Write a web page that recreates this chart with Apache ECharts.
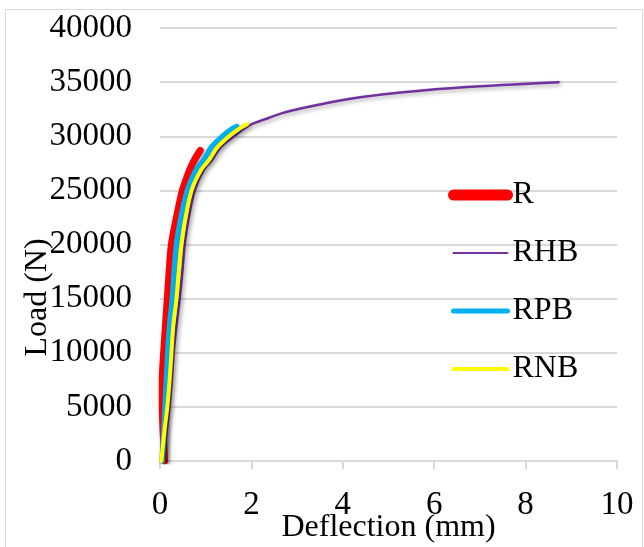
<!DOCTYPE html>
<html>
<head>
<meta charset="utf-8">
<script src="https://cdn.jsdelivr.net/npm/echarts@6/dist/echarts.min.js"></script>
<style>
html,body{margin:0;padding:0;background:#fff;}
#c{width:644px;height:547px;}
</style>
</head>
<body>
<div id="c"></div>
<script>
// ---- data ----
const seriesNames = ['R', 'RHB', 'RPB', 'RNB'];
const xTicks = [0, 2, 4, 6, 8, 10];
const yTicks = [0, 5000, 10000, 15000, 20000, 25000, 30000, 35000, 40000];

const rDefl = [0.10, 0.07, 0.05, 0.05, 0.08, 0.12, 0.16, 0.20, 0.25, 0.36, 0.49, 0.57, 0.65, 0.75, 0.88];
const rLoad = [0, 2500, 5000, 7500, 10000, 12500, 15000, 17500, 20000, 22500, 25000, 26000, 26900, 27800, 28700];

const rhbDefl = [0.08, 0.14, 0.21, 0.26, 0.30, 0.36, 0.43, 0.49, 0.54, 0.63, 0.76, 0.96, 1.14, 1.33, 1.62, 1.97, 2.30, 2.66, 3.10, 3.68, 4.38, 5.32, 6.64, 8.72];
const rhbLoad = [0, 2500, 5000, 7500, 10000, 12500, 15000, 17500, 20000, 22500, 25000, 26900, 27800, 29000, 30000, 31040, 31570, 32110, 32580, 33100, 33600, 34060, 34520, 34980];

const rpbDefl = [0.05, 0.08, 0.11, 0.14, 0.17, 0.21, 0.27, 0.31, 0.36, 0.46, 0.60, 0.79, 0.96, 1.13, 1.37, 1.52, 1.68];
const rpbLoad = [0, 2500, 5000, 7500, 10000, 12500, 15000, 17500, 20000, 22500, 25000, 26900, 27800, 29000, 30000, 30500, 30900];

const rnbDefl = [0.03, 0.09, 0.16, 0.21, 0.25, 0.29, 0.36, 0.41, 0.47, 0.56, 0.69, 0.90, 1.07, 1.26, 1.51, 1.70, 1.91];
const rnbLoad = [0, 2500, 5000, 7500, 10000, 12500, 15000, 17500, 20000, 22500, 25000, 26900, 27800, 29000, 30000, 30600, 31130];

// ---- chart ----
const pairs = (xs, ys) => xs.map((x, i) => [x, ys[i]]);
const FONT = '"Liberation Serif", "Times New Roman", serif';
const colors = ['#FF0000', '#7030A0', '#00B0F0', '#FFFF00'];
const widths = [7, 2.5, 5.5, 4];
const legendWidths = [11, 2, 5, 4];
const dataSets = [pairs(rDefl, rLoad), pairs(rhbDefl, rhbLoad), pairs(rpbDefl, rpbLoad), pairs(rnbDefl, rnbLoad)];

const chart = echarts.init(document.getElementById('c'), null, {renderer: 'canvas'});
chart.setOption({
  animation: false,
  backgroundColor: '#ffffff',
  textStyle: {fontFamily: FONT, color: '#000'},
  grid: {left: 160, right: 27, top: 28, bottom: 86, containLabel: false, outerBoundsMode: 'none'},
  graphic: [{
    type: 'rect', left: 3, top: 7, silent: true,
    shape: {width: 637, height: 538},
    style: {fill: 'none', stroke: '#d9d9d9', lineWidth: 1}
  }],
  legend: {
    orient: 'vertical',
    left: 443, top: 174,
    itemWidth: 54, itemHeight: 14, itemGap: 26,
    textStyle: {fontFamily: FONT, fontSize: 32, color: '#000', lineHeight: 31},
    data: seriesNames.map((n, i) => ({
      name: n,
      itemStyle: {opacity: 0},
      lineStyle: {width: legendWidths[i], cap: 'round', shadowBlur: 0, shadowOffsetX: 0, shadowOffsetY: 0}
    }))
  },
  xAxis: {
    type: 'value', min: 0, max: 10, interval: 2,
    name: 'Deflection (mm)', nameLocation: 'middle', nameGap: 51, nameMoveOverlap: false,
    nameTextStyle: {fontFamily: FONT, fontSize: 32, color: '#000', lineHeight: 31},
    axisLine: {show: true, lineStyle: {color: '#d9d9d9', width: 2}},
    axisTick: {show: true, length: 8, lineStyle: {color: '#d9d9d9', width: 2}},
    axisLabel: {fontFamily: FONT, fontSize: 33, color: '#000', margin: 29, lineHeight: 31,
      formatter: v => xTicks.includes(v) ? String(v) : ''},
    splitLine: {show: false}
  },
  yAxis: {
    type: 'value', min: 0, max: 40000, interval: 5000,
    name: 'Load (N)', nameLocation: 'middle', nameGap: 107, nameRotate: 90, nameMoveOverlap: false,
    nameTextStyle: {fontFamily: FONT, fontSize: 32, color: '#000', lineHeight: 31, padding: [0, 106, 0, 0]},
    axisLine: {show: false},
    axisTick: {show: false},
    axisLabel: {fontFamily: FONT, fontSize: 33, color: '#000', margin: 28,
      formatter: v => yTicks.includes(v) ? String(v) : ''},
    splitLine: {show: true, lineStyle: {color: '#d9d9d9', width: 2}}
  },
  series: seriesNames.map((n, i) => ({
    name: n, type: 'line', data: dataSets[i],
    showSymbol: false, symbol: 'none', smooth: 0.3,
    color: colors[i],
    lineStyle: {color: colors[i], width: widths[i], cap: 'round', join: 'round',
      shadowColor: 'rgba(0,0,0,0.35)', shadowBlur: 4, shadowOffsetX: 2, shadowOffsetY: 2}
  }))
});
</script>
</body>
</html>
